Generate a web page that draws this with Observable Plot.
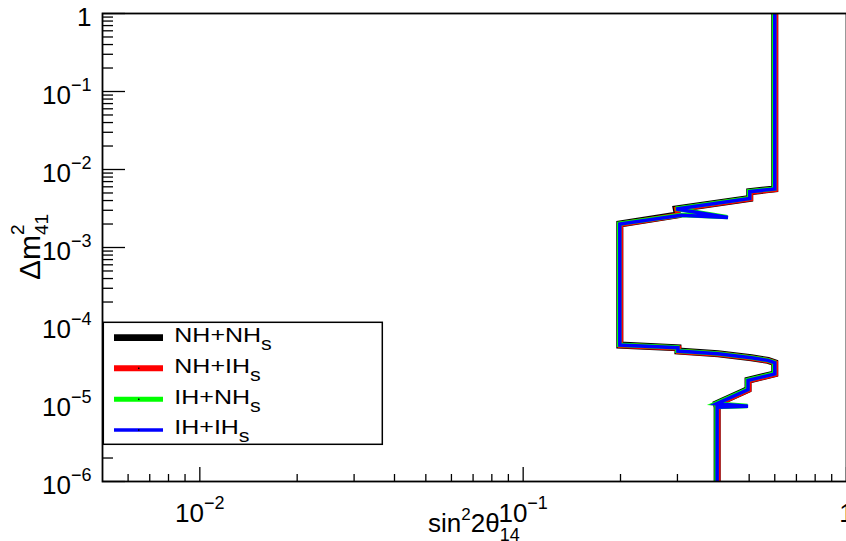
<!DOCTYPE html>
<html>
<head>
<meta charset="utf-8">
<script src="https://cdn.jsdelivr.net/npm/d3@7"></script>
<script src="https://cdn.jsdelivr.net/npm/@observablehq/plot@0.6"></script>
<style>
  body { margin: 0; background: #fff; }
  #chart { position: relative; width: 846px; height: 541px; overflow: hidden; }
  #chart svg { display: block; }
</style>
</head>
<body>
<div id="chart"></div>
<script>
// Sensitivity contours in the (sin²2θ14, Δm²41) plane, one per mass-hierarchy combination.
const nhNhSin = [0.600, 0.600, 0.502, 0.502, 0.2975, 0.300, 0.199, 0.199, 0.301, 0.301, 0.4006, 0.508, 0.572, 0.600, 0.600, 0.496, 0.496, 0.396, 0.398, 0.398];
const nhNhDm  = [1, 5.63e-3, 5.2e-3, 4.26e-3, 3.12e-3, 2.62e-3, 2.0e-3, 5.61e-5, 5.18e-5, 4.70e-5, 4.34e-5, 3.86e-5, 3.57e-5, 3.33e-5, 2.40e-5, 1.98e-5, 1.51e-5, 9.9e-6, 8.95e-6, 1e-6];

const nhIhSin = [0.600, 0.600, 0.502, 0.502, 0.2975, 0.300, 0.199, 0.199, 0.301, 0.301, 0.4006, 0.508, 0.572, 0.600, 0.600, 0.496, 0.496, 0.396, 0.398, 0.398];
const nhIhDm  = [1, 5.63e-3, 5.2e-3, 4.26e-3, 3.12e-3, 2.62e-3, 2.0e-3, 5.61e-5, 5.18e-5, 4.70e-5, 4.34e-5, 3.86e-5, 3.57e-5, 3.33e-5, 2.40e-5, 1.98e-5, 1.51e-5, 9.9e-6, 8.95e-6, 1e-6];

const ihNhSin = [0.600, 0.600, 0.502, 0.502, 0.2975, 0.430, 0.308, 0.199, 0.199, 0.301, 0.301, 0.4006, 0.508, 0.572, 0.600, 0.600, 0.496, 0.496, 0.396, 0.496, 0.398, 0.398];
const ihNhDm  = [1, 5.63e-3, 5.2e-3, 4.26e-3, 3.12e-3, 2.43e-3, 2.59e-3, 2.0e-3, 5.61e-5, 5.18e-5, 4.70e-5, 4.34e-5, 3.86e-5, 3.57e-5, 3.33e-5, 2.40e-5, 1.98e-5, 1.51e-5, 9.9e-6, 9.2e-6, 8.95e-6, 1e-6];

const ihIhSin = [0.600, 0.600, 0.502, 0.502, 0.2975, 0.430, 0.308, 0.199, 0.199, 0.301, 0.301, 0.4006, 0.508, 0.572, 0.600, 0.600, 0.496, 0.496, 0.396, 0.496, 0.398, 0.398];
const ihIhDm  = [1, 5.63e-3, 5.2e-3, 4.26e-3, 3.12e-3, 2.43e-3, 2.59e-3, 2.0e-3, 5.61e-5, 5.18e-5, 4.70e-5, 4.34e-5, 3.86e-5, 3.57e-5, 3.33e-5, 2.40e-5, 1.98e-5, 1.51e-5, 9.9e-6, 9.2e-6, 8.95e-6, 1e-6];

const seriesNames  = ["NH+NH", "NH+IH", "IH+NH", "IH+IH"];
const seriesColors = ["#000000", "#ff0000", "#00ff00", "#0000ff"];

const xDomain = [0.005, 1];
const yDomain = [1e-6, 1];
const xMajorTicks = [0.01, 0.1, 1];
const yMajorTicks = [1e-6, 1e-5, 1e-4, 1e-3, 1e-2, 1e-1, 1];

// Minor log ticks (2..9 within each decade), kept inside the domain
function minorTicks([lo, hi]) {
  const out = [];
  for (let e = Math.floor(Math.log10(lo)); e < Math.ceil(Math.log10(hi)); e++) {
    for (let k = 2; k <= 9; k++) {
      const v = k * Math.pow(10, e);
      if (v > lo * 1.0001 && v < hi * 0.9999) out.push(v);
    }
  }
  return out;
}
const xMinorTicks = minorTicks(xDomain);
const yMinorTicks = minorTicks(yDomain);

const zip = (s, m) => s.map((v, i) => ({s: v, m: m[i]}));
const curves = [zip(nhNhSin, nhNhDm), zip(nhIhSin, nhIhDm), zip(ihNhSin, ihNhDm), zip(ihIhSin, ihIhDm)];

const W = 846, H = 541;
const M = {top: 13, right: 0, bottom: 60, left: 102};
const plotH = H - M.top - M.bottom;
const plotW = W - M.left - M.right;

const lineStyles = [
  {strokeWidth: 7,   dx: 0,    dy: 0},
  {strokeWidth: 5.5, dx: 0.6,  dy: 0.3},
  {strokeWidth: 4.5, dx: -0.6, dy: -0.3},
  {strokeWidth: 3.5, dx: 0,    dy: 0}
];

const expFormat = d => d === 1 ? "1" : "10^" + Math.round(Math.log10(d));

const chart = Plot.plot({
  width: W,
  height: H,
  marginTop: M.top,
  marginRight: M.right,
  marginBottom: M.bottom,
  marginLeft: M.left,
  x: {type: "log", domain: xDomain},
  y: {type: "log", domain: yDomain},
  style: {fontFamily: "'Liberation Sans', Arial, sans-serif", fontSize: "26px", background: "white", color: "black"},
  marks: [
    Plot.tickX(xMinorTicks, {x: d => d, stroke: "black", strokeWidth: 1.3, insetTop: plotH - 7}),
    Plot.tickX(xMajorTicks, {x: d => d, stroke: "black", strokeWidth: 1.3, insetTop: plotH - 14}),
    Plot.tickY(yMinorTicks, {y: d => d, stroke: "black", strokeWidth: 1.3, insetRight: plotW - 11}),
    Plot.tickY(yMajorTicks, {y: d => d, stroke: "black", strokeWidth: 1.3, insetRight: plotW - 23}),
    ...curves.map((c, i) => Plot.line(c, {
      x: "s", y: "m",
      stroke: seriesColors[i],
      strokeWidth: lineStyles[i].strokeWidth,
      dx: lineStyles[i].dx, dy: lineStyles[i].dy,
      strokeLinejoin: "miter",
      strokeLinecap: "butt",
      strokeMiterlimit: 6,
      clip: true,
      curve: "linear"
    })),
    Plot.frame({stroke: "black", strokeWidth: 1.8}),
    Plot.axisX(xMajorTicks, {tickSize: 0, tickPadding: 0, tickFormat: expFormat, label: null, fontSize: 26}),
    Plot.axisY(yMajorTicks, {anchor: "left", tickSize: 0, tickPadding: 11, tickFormat: expFormat, label: null, fontSize: 26})
  ]
});

document.getElementById("chart").appendChild(chart);
const svg = d3.select(chart);

// Turn "10^n" tick labels into a base with a raised exponent
function exponentLabel(el, baseline) {
  const t = el.textContent;
  el.setAttribute("y", baseline);
  const m = /^10\^(-?\d+)$/.exec(t);
  if (!m) return;
  el.textContent = "";
  const sel = d3.select(el);
  sel.append("tspan").text("10");
  sel.append("tspan").attr("font-size", 18).attr("dy", -13).text(m[1].replace("-", "\u2212"));
}
svg.selectAll('g[aria-label="x-axis tick label"] text').each(function () { exponentLabel(this, 40); });
svg.selectAll('g[aria-label="y-axis tick label"] text').each(function () { exponentLabel(this, 12); });

const font = "'Liberation Sans', Arial, sans-serif";

// x-axis title: sin²2θ₁₄
const xt = svg.append("text")
  .attr("x", 428).attr("y", 531.5)
  .attr("text-anchor", "start")
  .attr("font-family", font).attr("font-size", 26).attr("fill", "black");
xt.append("tspan").text("sin");
xt.append("tspan").attr("font-size", 17).attr("dy", -12).text("2");
xt.append("tspan").attr("dy", 12).text("2\u03b8");
xt.append("tspan").attr("font-size", 18).attr("dy", 9).text("14");

// y-axis title: Δm²₄₁ with stacked scripts
const yt = svg.append("text")
  .attr("transform", "translate(40,280) rotate(-90)")
  .attr("text-anchor", "start")
  .attr("font-family", font).attr("font-size", 30).attr("fill", "black");
yt.append("tspan").text("\u0394m");
yt.append("tspan").attr("font-size", 19).attr("dy", -16).text("2");
yt.append("tspan").attr("font-size", 19).attr("dx", -10.6).attr("dy", 24).text("41");

// Legend box
const lg = svg.append("g").attr("text-anchor", "start");
lg.append("rect")
  .attr("x", 103.3).attr("y", 322.3).attr("width", 279).attr("height", 122)
  .attr("fill", "white").attr("stroke", "black").attr("stroke-width", 1.5);
const legendLineY = [337.7, 368.3, 399.3, 430];
const legendWidths = [6.7, 6, 5, 3.5];
seriesNames.forEach((name, i) => {
  lg.append("line")
    .attr("x1", 114).attr("x2", 163)
    .attr("y1", legendLineY[i]).attr("y2", legendLineY[i])
    .attr("stroke", seriesColors[i]).attr("stroke-width", legendWidths[i]);
  if (i > 0) {
    lg.append("rect").attr("x", 138).attr("y", legendLineY[i] - 0.75)
      .attr("width", 1.5).attr("height", 1.5).attr("fill", "black");
  }
  const t = lg.append("text")
    .attr("transform", `translate(174.3,${legendLineY[i] + 4.2}) scale(1.19,1)`)
    .attr("font-family", font).attr("font-size", 21).attr("fill", "black");
  t.append("tspan").text(name);
  t.append("tspan").attr("font-size", 18).attr("dy", 8).text("s");
});
</script>
</body>
</html>
